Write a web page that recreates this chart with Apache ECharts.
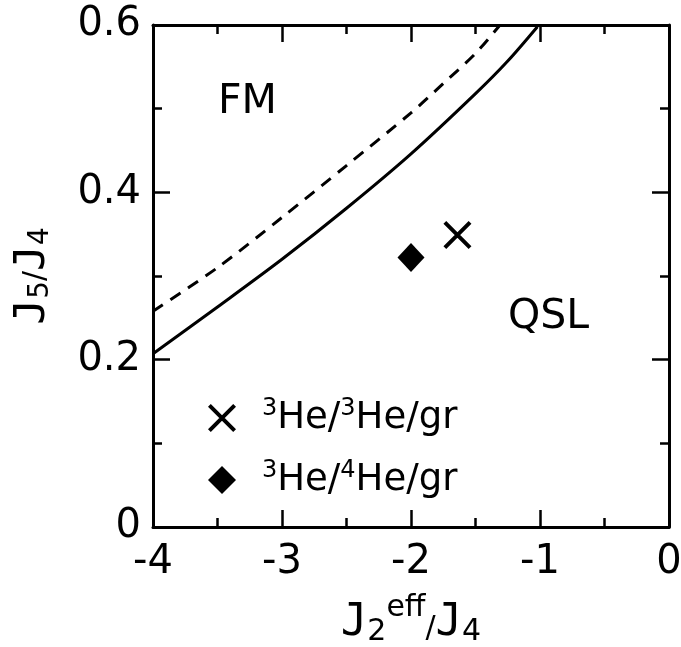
<!DOCTYPE html>
<html>
<head>
<meta charset="utf-8">
<script src="https://cdn.jsdelivr.net/npm/echarts@6/dist/echarts.min.js"></script>
<style>
html,body{margin:0;padding:0;background:#fff;}
#c{width:681px;height:647px;}
</style>
</head>
<body>
<div id="c"></div>
<script>
// ---- data ----
var solidX = [-4.0, -3.5, -3.0, -2.5, -2.0, -1.5, -1.25, -1.02];
var solidY = [0.207, 0.263, 0.320, 0.381, 0.446, 0.518, 0.557, 0.598];
var dashX  = [-4.0, -3.5, -3.0, -2.5, -2.0, -1.75, -1.5, -1.31];
var dashY  = [0.258, 0.310, 0.370, 0.432, 0.495, 0.530, 0.566, 0.600];
var he33 = [[-1.64, 0.349]];
var he34 = [[-2.0, 0.322]];
var seriesNames = ['3He/3He/gr', '3He/4He/gr'];
var legendRich = ['{sp|}{sup|3}He/{sup|3}He/gr', '{sp|}{sup|3}He/{sup|4}He/gr'];
var xTicks = [-4, -3, -2, -1, 0];
var yTicks = [0, 0.2, 0.4, 0.6];
var regionLabels = ['FM', 'QSL'];

function zip(a, b) { return a.map(function (v, i) { return [v, b[i]]; }); }

var xPath = 'path://M0,1 L1,0 L10,9 L9,10 Z M9,0 L10,1 L1,10 L0,9 Z';
var FONT = 'DejaVu Sans';

var axisLineStyle = { color: '#000', width: 3 };
var tickCommon = { show: true, inside: true, length: 17, lineStyle: { color: '#000', width: 2.5 } };
var minorCommon = { show: true, splitNumber: 2, length: 9, lineStyle: { color: '#000', width: 2.5 } };

var chart = echarts.init(document.getElementById('c'), null, { renderer: 'canvas' });
chart.setOption({
  backgroundColor: '#fff',
  animation: false,
  grid: { left: 153, right: 12, top: 25, bottom: 120, containLabel: false, outerBoundsMode: 'none' },
  xAxis: [{
    type: 'value', min: xTicks[0], max: xTicks[xTicks.length - 1], interval: 1, position: 'bottom',
    axisLine: { show: true, onZero: false, lineStyle: axisLineStyle },
    axisTick: tickCommon, minorTick: minorCommon, splitLine: { show: false },
    axisLabel: { color: '#000', fontFamily: FONT, fontSize: 40, margin: 16,
      formatter: function (v) { return String(v); } },
    name: '{j|J}{sub|2}{sup|eff}{sl|/}{j|J}{sub|4}',
    nameLocation: 'middle', nameGap: 66,
    nameTextStyle: { color: '#000', fontFamily: FONT,
      rich: {
        j: { fontFamily: 'DejaVu Sans Mono', fontSize: 44, color: '#000' },
        sub: { fontFamily: FONT, fontSize: 30, color: '#000', padding: [16, 0, 0, 0] },
        sup: { fontFamily: FONT, fontSize: 30, color: '#000', padding: [0, 0, 32, 0] },
        sl: { fontFamily: FONT, fontSize: 30, color: '#000', padding: [10, 0, 0, 0] }
      } }
  }, {
    type: 'value', min: xTicks[0], max: xTicks[xTicks.length - 1], interval: 1, position: 'top',
    axisLine: { show: true, onZero: false, lineStyle: axisLineStyle },
    axisTick: tickCommon, minorTick: minorCommon, splitLine: { show: false },
    axisLabel: { show: false }
  }],
  yAxis: [{
    type: 'value', min: yTicks[0], max: yTicks[yTicks.length - 1], interval: 0.2, position: 'left',
    axisLine: { show: true, onZero: false, lineStyle: axisLineStyle },
    axisTick: tickCommon, minorTick: minorCommon, splitLine: { show: false },
    axisLabel: { color: '#000', fontFamily: FONT, fontSize: 40, margin: 12 },
    name: '{j|J}{sub|5}{sl|/}{j|J}{sub|4}',
    nameLocation: 'middle', nameGap: 98, nameRotate: 90,
    nameTextStyle: { color: '#000', fontFamily: FONT,
      rich: {
        j: { fontFamily: 'DejaVu Sans Mono', fontSize: 43, color: '#000' },
        sub: { fontFamily: FONT, fontSize: 28, color: '#000', padding: [16, 0, 0, 0] },
        sl: { fontFamily: FONT, fontSize: 30, color: '#000', padding: [6, 0, 0, 0] }
      } }
  }, {
    type: 'value', min: yTicks[0], max: yTicks[yTicks.length - 1], interval: 0.2, position: 'right',
    axisLine: { show: true, onZero: false, lineStyle: axisLineStyle },
    axisTick: tickCommon, minorTick: minorCommon, splitLine: { show: false },
    axisLabel: { show: false }
  }],
  legend: {
    orient: 'vertical', left: 203, top: 392, itemWidth: 28, itemHeight: 28, itemGap: 21,
    data: [{ name: seriesNames[0] }, { name: seriesNames[1] }],
    formatter: function (n) { return legendRich[seriesNames.indexOf(n)]; },
    textStyle: { color: '#000', fontFamily: FONT, fontSize: 37, lineHeight: 40,
      rich: {
        sp: { width: 21 },
        sup: { fontFamily: FONT, fontSize: 24, color: '#000', padding: [0, 0, 18, 0] }
      } },
    selectedMode: false
  },
  graphic: [
    { type: 'text', left: 218, top: 82, style: { text: regionLabels[0], font: '41px "DejaVu Sans"', fill: '#000' } },
    { type: 'text', left: 508, top: 297, style: { text: regionLabels[1], font: '41px "DejaVu Sans"', fill: '#000' } }
  ],
  series: [
    { type: 'line', name: 'solid', data: zip(solidX, solidY), smooth: 0.3, showSymbol: false,
      lineStyle: { color: '#000', width: 3 }, z: 3 },
    { type: 'line', name: 'dashed', data: zip(dashX, dashY), smooth: 0.3, showSymbol: false,
      lineStyle: { color: '#000', width: 3, type: [12, 9] }, z: 3 },
    { type: 'scatter', name: seriesNames[0], data: he33, symbol: xPath, symbolSize: 28,
      itemStyle: { color: '#000', opacity: 1 } },
    { type: 'scatter', name: seriesNames[1], data: he34, symbol: 'diamond', symbolSize: [27, 29],
      itemStyle: { color: '#000', opacity: 1 } }
  ]
});
</script>
</body>
</html>
